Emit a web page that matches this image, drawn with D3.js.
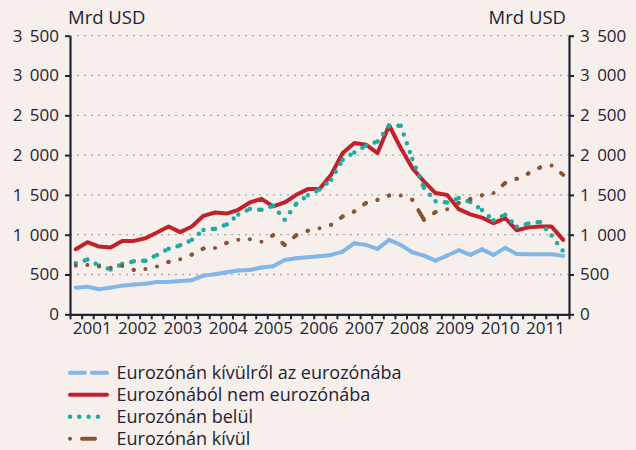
<!DOCTYPE html>
<html>
<head>
<meta charset="utf-8">
<script src="https://cdn.jsdelivr.net/npm/d3@7"></script>
<style>
  body { margin: 0; background: #f6efec; }
  text { font-family: "Open Sans", sans-serif; fill: #1f2433; }
</style>
</head>
<body>
<figure id="chart" style="margin:0"></figure>
<script>
// Years on the axis, one category per quarter (2001 Q1 - 2011 Q3)
const years = [2001, 2002, 2003, 2004, 2005, 2006, 2007, 2008, 2009, 2010, 2011];
const quarters = years.flatMap(y => ["Q1", "Q2", "Q3", "Q4"].map(q => y + q)).slice(0, 43);

const yTicks = [0, 500, 1000, 1500, 2000, 2500, 3000, 3500];
const yTickLabels = ["0", "500", "1 000", "1 500", "2 000", "2 500", "3 000", "3 500"];
const unitLabel = "Mrd USD";

const seriesNames = [
  "Eurozónán kívülről az eurozónába",
  "Eurozónából nem eurozónába",
  "Eurozónán belül",
  "Eurozónán kívül"
];

const kivulrolBe = [335, 347, 315, 335, 360, 373, 385, 406, 406, 419,
  428, 486, 503, 528, 549, 557, 588, 603, 683, 705,
  717, 730, 746, 788, 893, 872, 822, 935, 872, 780,
  738, 675, 738, 805, 746, 815, 746, 835, 757, 755,
  755, 755, 734];
const bolNem = [818, 906, 851, 838, 922, 922, 956, 1027, 1103, 1032,
  1103, 1237, 1279, 1265, 1313, 1405, 1451, 1355, 1405, 1501,
  1573, 1573, 1753, 2026, 2152, 2131, 2026, 2375, 2089, 1837,
  1669, 1523, 1500, 1321, 1256, 1215, 1145, 1208, 1056, 1092,
  1102, 1102, 935];
const belul = [642, 688, 614, 562, 631, 666, 673, 746, 822, 866,
  935, 1060, 1074, 1128, 1254, 1323, 1313, 1365, 1187, 1390,
  1495, 1568, 1690, 1942, 2034, 2118, 2172, 2370, 2370, 1950,
  1590, 1420, 1405, 1460, 1410, 1310, 1180, 1250, 1100, 1140,
  1160, 990, 790];
const kivul = [610, 620, 599, 586, 608, 557, 568, 599, 658, 692,
  750, 826, 834, 897, 935, 944, 910, 994, 872, 994,
  1050, 1082, 1124, 1229, 1292, 1397, 1438, 1493, 1493, 1438,
  1187, 1284, 1321, 1397, 1450, 1495, 1523, 1649, 1703, 1770,
  1845, 1868, 1753];

const width = 636, height = 450;
const plotLeft = 70, plotRight = 569, plotTop = 35.7, plotBottom = 314.3;

const styles = [
  { color: "#80b7e6", dash: "15,7", width: 4 },
  { color: "#c0212b", dash: null, width: 4 },
  { color: "#1eaba1", dash: "0,9.3", width: 4.5 },
  { color: "#8b5233", dash: "0,12,13,12", width: 4 }
];
const allSeries = [kivulrolBe, bolNem, belul, kivul];

const svg = d3.select("#chart").append("svg")
  .attr("width", width).attr("height", height);
svg.append("rect").attr("width", width).attr("height", height).attr("fill", "#f6efec");

// Scales
const x = d3.scaleBand().domain(quarters).range([plotLeft, plotRight]);
const xEdge = d3.scaleLinear().domain([0, quarters.length]).range([plotLeft, plotRight]);
const yearX = d3.scaleLinear().domain([2001, 2011]).range([plotLeft + 21.7, plotLeft + 475]);
const y = d3.scaleLinear().domain([0, 3500]).range([plotBottom, plotTop]);

// Dotted grid lines
svg.append("g").selectAll("line")
  .data(yTicks.filter(d => d > 0))
  .enter().append("line")
  .attr("x1", plotLeft).attr("x2", plotRight)
  .attr("y1", d => y(d)).attr("y2", d => y(d))
  .attr("stroke", "#a9a9a9").attr("stroke-width", 1.3)
  .attr("stroke-dasharray", "2,5");

// Y axes, left and right
const fmt = d => yTickLabels[yTicks.indexOf(d)];
const yl = svg.append("g").attr("transform", `translate(${plotLeft},0)`)
  .call(d3.axisLeft(y).tickValues(yTicks).tickFormat(fmt).tickSize(5).tickSizeOuter(0).tickPadding(6));
const yr = svg.append("g").attr("transform", `translate(${plotRight},0)`)
  .call(d3.axisRight(y).tickValues(yTicks).tickFormat(fmt).tickSize(5).tickSizeOuter(0).tickPadding(6));

// X axis: quarter ticks between categories, year labels below
const xa = svg.append("g").attr("transform", `translate(0,${plotBottom})`)
  .call(d3.axisBottom(xEdge).tickValues(d3.range(quarters.length + 1)).tickFormat("").tickSize(5).tickSizeOuter(0));
const xl = svg.append("g").attr("transform", `translate(0,${plotBottom})`)
  .call(d3.axisBottom(yearX).tickValues(years).tickFormat(d3.format("d")).tickSize(0).tickPadding(8));
xl.select(".domain").remove();

[yl, yr, xa].forEach(g => {
  g.select(".domain").attr("stroke", "#1f2433").attr("stroke-width", 2.2);
  g.selectAll(".tick line").attr("stroke", "#1f2433").attr("stroke-width", 2);
});
[yl, yr, xl].forEach(g => {
  g.selectAll("text").attr("font-size", 17).style("word-spacing", "3px")
    .attr("font-family", "Open Sans").attr("fill", "#1f2433");
});

// Unit labels
svg.append("text").attr("x", 68).attr("y", 24).attr("font-size", 18.5).text(unitLabel);
svg.append("text").attr("x", 566).attr("y", 24).attr("font-size", 18.5)
  .attr("text-anchor", "end").text(unitLabel);

// Lines: Excel restarts the dash pattern on every segment, so draw each one separately
const line = d3.line().x(d => x(d[0]) + x.bandwidth() / 2).y(d => y(d[1]));
allSeries.forEach((vals, k) => {
  const pts = vals.map((v, i) => [quarters[i], v]);
  const segs = styles[k].dash ? d3.pairs(pts) : [pts];
  svg.append("g").selectAll("path")
    .data(segs)
    .enter().append("path")
    .attr("d", line)
    .attr("fill", "none")
    .attr("stroke", styles[k].color)
    .attr("stroke-width", styles[k].width)
    .attr("stroke-linecap", "round")
    .attr("stroke-linejoin", "round")
    .attr("stroke-dasharray", styles[k].dash);
});

// Legend
const legend = svg.append("g").selectAll("g")
  .data(seriesNames)
  .enter().append("g")
  .attr("transform", (d, i) => `translate(0,${372.8 + i * 22})`);
legend.append("path")
  .attr("d", "M70,0H107")
  .attr("fill", "none")
  .attr("stroke", (d, i) => styles[i].color)
  .attr("stroke-width", (d, i) => styles[i].width)
  .attr("stroke-linecap", "round")
  .attr("stroke-dasharray", (d, i) => styles[i].dash);
legend.append("text")
  .attr("x", 116.5).attr("dy", "0.35em")
  .attr("font-size", 18)
  .text(d => d);
</script>
</body>
</html>
